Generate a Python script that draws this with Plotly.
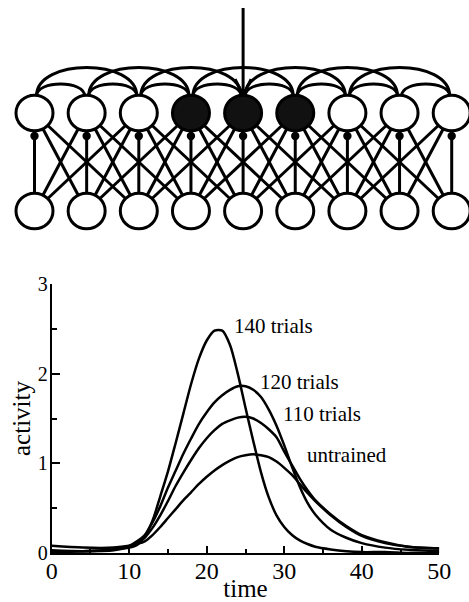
import plotly.graph_objects as go

# ---------------- chart data ----------------
TIME = [0, 4, 8, 10, 11, 12, 13, 14, 15, 16, 17, 18, 19, 20, 21, 22, 23, 24, 25,
        26, 27, 28, 29, 30, 31, 32, 33, 34, 36, 38, 40, 43, 46, 50]

ACT_140 = [0.01, 0.02, 0.04, 0.06, 0.09, 0.19, 0.36, 0.63, 0.91, 1.23, 1.56, 1.89, 2.17, 2.37,
           2.48, 2.48, 2.32, 2.00, 1.62, 1.25, 0.90, 0.62, 0.42, 0.29, 0.20, 0.14, 0.10, 0.07,
           0.04, 0.02, 0.01, 0.01, 0.00, 0.00]
ACT_120 = [0.02, 0.02, 0.04, 0.08, 0.13, 0.20, 0.34, 0.52, 0.73, 0.92, 1.11, 1.28, 1.44, 1.57,
           1.68, 1.76, 1.82, 1.86, 1.86, 1.82, 1.74, 1.60, 1.42, 1.20, 0.96, 0.74, 0.56, 0.43,
           0.26, 0.17, 0.11, 0.06, 0.035, 0.02]
ACT_110 = [0.03, 0.02, 0.03, 0.07, 0.11, 0.17, 0.28, 0.42, 0.58, 0.75, 0.90, 1.04, 1.17, 1.28,
           1.37, 1.44, 1.48, 1.51, 1.52, 1.50, 1.45, 1.38, 1.29, 1.13, 0.98, 0.83, 0.70, 0.59,
           0.43, 0.30, 0.20, 0.12, 0.07, 0.05]
ACT_UNTRAINED = [0.08, 0.06, 0.06, 0.08, 0.10, 0.13, 0.20, 0.29, 0.39, 0.49, 0.59, 0.68, 0.77,
                 0.85, 0.92, 0.98, 1.03, 1.07, 1.09, 1.10, 1.09, 1.07, 1.02, 0.95, 0.87, 0.77,
                 0.67, 0.58, 0.42, 0.29, 0.19, 0.11, 0.07, 0.05]

SERIES_NAMES = ["140 trials", "120 trials", "110 trials", "untrained"]
LABEL_X = [23.3, 26.6, 29.6, 32.7]
LABEL_Y = [2.53, 1.91, 1.55, 1.09]

X_TICKS = [0, 10, 20, 30, 40, 50]
Y_TICKS = [0, 1, 2, 3]

# ---------------- network diagram data ----------------
N_NEURONS = 9
ACTIVE = [3, 4, 5]
INPUT_NEURON = 4
LATERAL_OFFSETS = [1, 2]
FEEDFORWARD_OFFSETS = [-2, -1, 1, 2]

# diagram geometry (pixel space of the diagram axes)
X0, DX = 34.5, 52.15
TOP_Y, BOT_Y = 113.0, 211.0
RX, RY = 18.5, 17.8
DOT_Y, DOT_R = 136.0, 4.2
ARC_BASE = 96.0
ARC_H = {1: 12.0, 2: 28.5}
ARROW_TOP = 8.0
LW = 3

SERIF = "Liberation Serif, Times New Roman, Times, DejaVu Serif, serif"

fig = go.Figure()

for name, ys in zip(SERIES_NAMES, [ACT_140, ACT_120, ACT_110, ACT_UNTRAINED]):
    fig.add_trace(go.Scatter(x=TIME, y=ys, mode="lines", name=name,
                             line=dict(color="black", width=2.5, shape="spline", smoothing=0.8),
                             showlegend=False, hoverinfo="skip"))

for name, lx, ly in zip(SERIES_NAMES, LABEL_X, LABEL_Y):
    fig.add_annotation(x=lx, y=ly, xref="x", yref="y", text=name, showarrow=False,
                       xanchor="left", yanchor="middle",
                       font=dict(family=SERIF, size=21, color="black"))

# invisible trace so the diagram axes exist
fig.add_trace(go.Scatter(x=[0, 469], y=[0, 602], xaxis="x2", yaxis="y2", mode="markers",
                         marker=dict(opacity=0), showlegend=False, hoverinfo="skip"))

shapes = []
cx = [X0 + DX * i for i in range(N_NEURONS)]

# feedforward connections (diagonals)
for j in range(N_NEURONS):
    for off in FEEDFORWARD_OFFSETS:
        k = j + off
        if 0 <= k < N_NEURONS:
            shapes.append(dict(type="line", xref="x2", yref="y2", x0=cx[j], y0=BOT_Y,
                               x1=cx[k], y1=TOP_Y, line=dict(color="black", width=LW)))
# vertical connections ending in a dot
for j in range(N_NEURONS):
    shapes.append(dict(type="line", xref="x2", yref="y2", x0=cx[j], y0=BOT_Y,
                       x1=cx[j], y1=DOT_Y, line=dict(color="black", width=LW)))
    shapes.append(dict(type="circle", xref="x2", yref="y2", x0=cx[j] - DOT_R, x1=cx[j] + DOT_R,
                       y0=DOT_Y - DOT_R, y1=DOT_Y + DOT_R, fillcolor="black",
                       line=dict(color="black", width=0)))
# lateral arcs
for off in LATERAL_OFFSETS:
    h = ARC_H[off] * 4.0 / 3.0
    for i in range(N_NEURONS - off):
        xa, xb = cx[i] + 2, cx[i + off] - 2
        path = f"M {xa},{ARC_BASE} C {xa},{ARC_BASE - h} {xb},{ARC_BASE - h} {xb},{ARC_BASE}"
        shapes.append(dict(type="path", xref="x2", yref="y2", path=path,
                           line=dict(color="black", width=LW)))
# input arrow
xi = cx[INPUT_NEURON]
shapes.append(dict(type="line", xref="x2", yref="y2", x0=xi, y0=ARROW_TOP, x1=xi,
                   y1=TOP_Y - RY, line=dict(color="black", width=LW)))
shapes.append(dict(type="path", xref="x2", yref="y2",
                   path=f"M {xi - 8},{TOP_Y - RY - 16} L {xi},{TOP_Y - RY} L {xi + 8},{TOP_Y - RY - 16}",
                   line=dict(color="black", width=LW)))
# neurons
for i in range(N_NEURONS):
    for cy, filled in [(TOP_Y, i in ACTIVE), (BOT_Y, False)]:
        shapes.append(dict(type="circle", xref="x2", yref="y2", x0=cx[i] - RX, x1=cx[i] + RX,
                           y0=cy - RY, y1=cy + RY,
                           fillcolor="#111111" if filled else "white",
                           line=dict(color="black", width=LW)))

fig.update_layout(
    width=469, height=602,
    margin=dict(l=0, r=0, t=0, b=0, autoexpand=False),
    paper_bgcolor="white", plot_bgcolor="rgba(0,0,0,0)",
    shapes=shapes,
    xaxis=dict(domain=[51.7 / 469, 439.3 / 469], range=[0, 50], anchor="y", automargin=False,
               tickvals=X_TICKS, ticks="inside", ticklen=7, tickwidth=2, tickcolor="black",
               minor=dict(dtick=5, ticks="inside", ticklen=4, tickwidth=2, tickcolor="black"),
               showline=True, linewidth=2, linecolor="black", showgrid=False, zeroline=False,
               tickfont=dict(family=SERIF, size=24, color="black"), ticklabelstandoff=-5,
               title=dict(text="time", font=dict(family=SERIF, size=25, color="black"), standoff=0)),
    yaxis=dict(domain=[(602 - 553) / 602, (602 - 284) / 602], range=[0, 3], anchor="x", automargin=False,
               tickvals=Y_TICKS, ticks="inside", ticklen=8, tickwidth=2, tickcolor="black",
               minor=dict(dtick=0.5, ticks="inside", ticklen=5, tickwidth=2, tickcolor="black"),
               showline=True, linewidth=2, linecolor="black", showgrid=False, zeroline=False,
               tickfont=dict(family=SERIF, size=20, color="black"), ticklabelstandoff=-2,
               title=dict(text="activity", font=dict(family=SERIF, size=25, color="black"), standoff=0)),
    xaxis2=dict(domain=[0, 1], range=[0, 469], anchor="y2", visible=False, fixedrange=True, automargin=False),
    yaxis2=dict(domain=[0, 1], range=[602, 0], anchor="x2", visible=False, fixedrange=True, automargin=False),
)

fig.write_html("out.html", config={"displayModeBar": False},
               post_script="document.body.style.margin='0';document.body.style.padding='0';")
